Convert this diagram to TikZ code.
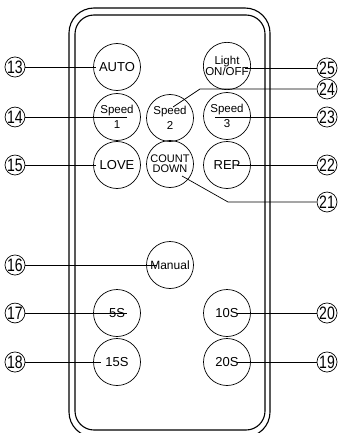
\documentclass[tikz,border=0pt]{standalone}
\usepackage{fontspec}
\setmainfont{Liberation Sans}
\newfontfamily\tagfont[FakeStretch=0.78]{Liberation Sans}
\usetikzlibrary{positioning}

\begin{document}
\begin{tikzpicture}[
    x=1pt, y=-1pt,
    font=\fontsize{11.5}{11.5}\selectfont,
    key/.style={
        draw,
        circle,
        line width=0.7pt,
        minimum size=47pt,
        inner sep=0pt,
        align=center
    },
    big/.style={font=\fontsize{13}{13}\selectfont},
    tag/.style={
        draw,
        circle,
        line width=0.7pt,
        minimum size=17pt,
        inner sep=0pt,
        font=\tagfont\fontsize{18}{18}\selectfont
    },
    lead/.style={line width=0.7pt}
]
\useasboundingbox (0,0) rectangle (339,433);

% --- Body of the remote ---
\draw[line width=1.1pt, rounded corners=25pt] (69,8) rectangle (270,437);
\draw[line width=1.1pt, rounded corners=19pt] (75,15) rectangle (265,430);

% --- Keys ---
\node[key, big] (auto) at (117,67) {AUTO};
\node[key] (light) at (227,66) {Light\\[-1pt]ON/OFF};
\node[key] (spd1) at (117,117) {Speed\\[3pt]1};
\node[key] (spd2) at (170,118) {Speed\\[3pt]2};
\node[key] (spd3) at (227,116) {Speed\\[3pt]3};
\node[key, big] (love) at (117,165) {LOVE};
\node[key, font=\fontsize{11}{11}\selectfont] (count) at (170,164) {COUNT\\[-1pt]DOWN};
\node[key, big] (rep) at (227,165) {REP};
\node[key, font=\fontsize{12}{12}\selectfont] (manual) at (170,265) {Manual};
\node[key, big] (s5) at (117,313) {5S};
\node[key, big] (s10) at (227,313) {10S};
\node[key, big] (s15) at (117,362) {15S};
\node[key, big] (s20) at (227,362) {20S};

% --- Number tags, left ---
\node[tag] (n13) at (15,67) {13};
\node[tag] (n14) at (15,117) {14};
\node[tag] (n15) at (15,165) {15};
\node[tag] (n16) at (15,265) {16};
\node[tag] (n17) at (15,313) {17};
\node[tag] (n18) at (15,362) {18};

% --- Number tags, right ---
\node[tag] (n25) at (327,68) {25};
\node[tag] (n24) at (327,89) {24};
\node[tag] (n23) at (327,117) {23};
\node[tag] (n22) at (327,165) {22};
\node[tag] (n21) at (327,202) {21};
\node[tag] (n20) at (327,313) {20};
\node[tag] (n19) at (327,362) {19};

% --- Leader ends ---
\coordinate (p13) at (96,67);
\coordinate (p14) at (127,117);
\coordinate (p15) at (96,165);
\coordinate (p16) at (157,265);
\coordinate (p17) at (127,313);
\coordinate (p18) at (101,362);
\coordinate (p25) at (245,68);
\coordinate (p24) at (173,107);
\coordinate (k24) at (200,89);
\coordinate (p23) at (215,117);
\coordinate (p22) at (237,165);
\coordinate (p21) at (182,176);
\coordinate (k21) at (228,202);
\coordinate (p20) at (237,313);
\coordinate (p19) at (237,362);

% --- Leaders ---
\draw[lead] (n13) -- (p13);
\draw[lead] (n14) -- (p14);
\draw[lead] (n15) -- (p15);
\draw[lead] (n16) -- (p16);
\draw[lead] (n17) -- (p17);
\draw[lead] (n18) -- (p18);
\draw[lead] (n25) -- (p25);
\draw[lead] (n24) -- (k24) -- (p24);
\draw[lead] (n23) -- (p23);
\draw[lead] (n22) -- (p22);
\draw[lead] (n21) -- (k21) -- (p21);
\draw[lead] (n20) -- (p20);
\draw[lead] (n19) -- (p19);

\end{tikzpicture}
\end{document}
